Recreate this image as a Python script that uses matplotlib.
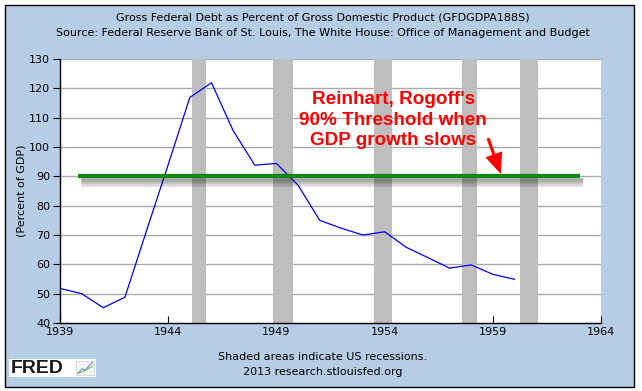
import numpy as np
import matplotlib
matplotlib.use("Agg")
import matplotlib.pyplot as plt
import matplotlib.patheffects as pe
from matplotlib.patches import Rectangle

# data
years = np.arange(1939, 1961)
debt_pct = [51.8, 50.0, 45.2, 48.8, 71.5, 94.0, 116.9, 121.9, 105.6, 93.8, 94.4,
            87.0, 75.0, 72.3, 70.0, 71.1, 65.8, 62.3, 58.7, 59.8, 56.6, 54.9]

recessions = [(1945.08, 1945.75), (1948.83, 1949.75), (1953.5, 1954.33),
              (1957.58, 1958.25), (1960.25, 1961.08)]

threshold = 90
threshold_span = (1939.83, 1963.03)
arrow_from = (1958.78, 103.0)
arrow_to = (1959.37, 90.8)
note_at = (1954.4, 109.2)

x_ticks = [1939, 1944, 1949, 1954, 1959, 1964]
y_ticks = list(range(40, 131, 10))

title1 = "Gross Federal Debt as Percent of Gross Domestic Product (GFDGDPA188S)"
title2 = "Source: Federal Reserve Bank of St. Louis, The White House: Office of Management and Budget"
note = "Reinhart, Rogoff's\n90% Threshold when\nGDP growth slows"

bg = "#b5cde5"
plt.rcParams['font.family'] = ['DejaVu Sans']

fig = plt.figure(figsize=(6.42, 3.91), dpi=100)
fig.patch.set_facecolor("white")
# blue frame with black border
frame = Rectangle((5 / 642, 1 - 387 / 391), 629 / 642, 382 / 391,
                  transform=fig.transFigure, facecolor=bg,
                  edgecolor="black", linewidth=1.0, zorder=-10)
fig.patches.append(frame)

ax = fig.add_axes([60 / 642, 1 - 323 / 391, 541 / 642, 264 / 391])
ax.set_facecolor("white")

for y in y_ticks[1:]:
    ax.axhline(y, color="#aaaaaa", linewidth=1.0, zorder=1)

for start, end in recessions:
    ax.axvspan(start, end, color="#bebebe", linewidth=0, zorder=2)

ax.plot(years, debt_pct, color="#0000ff", linewidth=0.9, zorder=4)

# soft drop shadow under the threshold bar
shadow = [pe.SimpleLineShadow(offset=(2.5, -2.0 - k * 0.7), shadow_color="black",
                              alpha=0.08, linewidth=2.5 + k * 0.9)
          for k in range(5)]
ax.plot(threshold_span, [threshold, threshold], color="#118811",
        linewidth=3.1, solid_capstyle="butt", zorder=5,
        path_effects=shadow + [pe.Normal()])

ax.text(note_at[0], note_at[1], note, color="#ff0000", fontsize=13.6,
        fontweight="bold", family=["Liberation Sans"], ha="center",
        va="center", linespacing=1.3, zorder=6)

ax.annotate("", xy=arrow_to, xytext=arrow_from, zorder=6,
            arrowprops=dict(arrowstyle="simple,head_length=1.0,head_width=0.85,tail_width=0.15",
                            mutation_scale=15, color="#ff0000", linewidth=0,
                            shrinkA=0, shrinkB=0))

ax.set_xlim(1939, 1964)
ax.set_ylim(40, 130)
ax.set_xticks(x_ticks)
ax.set_yticks(y_ticks)
ax.tick_params(axis="y", direction="out", length=5, labelsize=8, pad=2)
ax.tick_params(axis="x", direction="in", length=5, labelsize=8, pad=3)
for s in ["top", "right"]:
    ax.spines[s].set_visible(False)
for s in ["left", "bottom"]:
    ax.spines[s].set_color("black")
    ax.spines[s].set_linewidth(1.0)
    ax.spines[s].set_zorder(7)
ax.set_ylabel("(Percent of GDP)", fontsize=8, labelpad=2)

fig.text(323 / 642, 1 - 18 / 391, title1, ha="center", va="center", fontsize=8)
fig.text(323 / 642, 1 - 33 / 391, title2, ha="center", va="center", fontsize=8)
fig.text(323 / 642, 1 - 357 / 391, "Shaded areas indicate US recessions.",
         ha="center", va="center", fontsize=8)
fig.text(323 / 642, 1 - 372 / 391, "2013 research.stlouisfed.org",
         ha="center", va="center", fontsize=8)

# FRED logo
logo = fig.add_axes([9 / 642, 1 - 377 / 391, 87 / 642, 18 / 391])
logo.set_xlim(0, 1)
logo.set_ylim(0, 1)
logo.axis("off")
logo.add_patch(Rectangle((0, 0), 1, 1, facecolor="white", edgecolor="none"))
logo.text(0.02, 0.48, "FRED", fontsize=14, fontweight="heavy",
          family=["Liberation Sans"], color="#1a1a1a", va="center", ha="left")
logo.add_patch(Rectangle((0.77, 0.1), 0.21, 0.8, facecolor="#f4f4f4",
                         edgecolor="#d0d0d0", linewidth=0.5))
logo.plot([0.79, 0.84, 0.88, 0.92, 0.96], [0.2, 0.45, 0.38, 0.62, 0.82],
          color="#5a8fd0", linewidth=0.8)
logo.plot([0.79, 0.85, 0.9, 0.96], [0.2, 0.3, 0.45, 0.58],
          color="#7bbf5a", linewidth=0.8)

fig.savefig("out.png", dpi=100, facecolor=fig.get_facecolor())
